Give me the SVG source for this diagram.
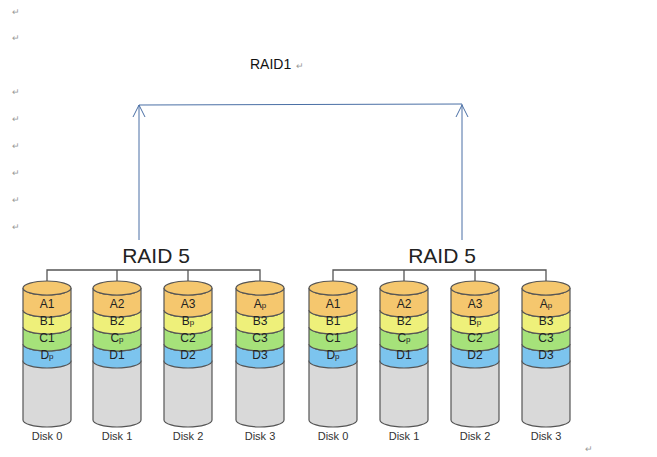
<svg xmlns="http://www.w3.org/2000/svg" width="657" height="457" viewBox="0 0 657 457">
<style>
.m{font-family:"Liberation Sans",Arial,sans-serif;font-size:9px;fill:#999}
.b{stroke:#555;stroke-width:1.2}
.t{font-family:"Liberation Sans",Arial,sans-serif;font-size:12px;fill:#222;text-anchor:middle}
.s{font-size:8px}
.d{font-family:"Liberation Sans",Arial,sans-serif;font-size:11px;fill:#333;text-anchor:middle}
.r5{font-family:"Liberation Sans",Arial,sans-serif;font-size:21px;fill:#222;text-anchor:middle}
.br{fill:none;stroke:#555;stroke-width:1.3}
.bl{fill:none;stroke:#4a6fa5;stroke-width:1}
</style>
<defs>
<g id="body">
<path class="b" fill="#d9d9d9" d="M-24,73 L-24,132 A24,7 0 0 0 24,132 L24,73 Z"/>
<path class="b" fill="#7cc4ee" d="M-24,56 L-24,73 A24,7 0 0 0 24,73 L24,56 A24,7 0 0 1 -24,56 Z"/>
<path class="b" fill="#a6e27a" d="M-24,39 L-24,56 A24,7 0 0 0 24,56 L24,39 A24,7 0 0 1 -24,39 Z"/>
<path class="b" fill="#eef07a" d="M-24,22 L-24,39 A24,7 0 0 0 24,39 L24,22 A24,7 0 0 1 -24,22 Z"/>
<path class="b" fill="#f5c76e" d="M-24,0 L-24,22 A24,7 0 0 0 24,22 L24,0 A24,7 0 0 1 -24,0 Z"/>
<ellipse class="b" fill="#f5c76e" cx="0" cy="0" rx="24" ry="7"/>
</g>
</defs>
<g id="marks">
<text class="m" x="12" y="15">↵</text><text class="m" x="12" y="41">↵</text>
<text class="m" x="12" y="95">↵</text><text class="m" x="12" y="122">↵</text>
<text class="m" x="12" y="149">↵</text><text class="m" x="12" y="176">↵</text>
<text class="m" x="12" y="203">↵</text><text class="m" x="12" y="230">↵</text>
<text class="m" x="585" y="452">↵</text>
</g>
<g id="raid1"><text x="250" y="69" font-family="Liberation Sans,Arial,sans-serif" font-size="14" fill="#111">RAID1</text><text class="m" x="296" y="69">↵</text></g>
<g id="connectors">
<path class="bl" d="M139,240 L139,105 L462,104 L462,240"/>
<path class="bl" d="M133,117 L139,105 L145,117 M456,117 L462,105 L468,117"/>
<path class="br" d="M47,281 L47,270 L260,270 L260,281 M117,270 L117,281 M188,270 L188,281"/>
<path class="br" d="M333,281 L333,270 L546,270 L546,281 M404,270 L404,281 M475,270 L475,281"/>
</g>
<g id="raid5a"><text class="r5" x="156" y="263">RAID 5</text></g>
<g id="raid5b"><text class="r5" x="442" y="263">RAID 5</text></g>
<g id="disk0a" transform="translate(47,288)"><use href="#body"/><text class="t" y="20">A1</text><text class="t" y="37">B1</text><text class="t" y="54">C1</text><text class="t" y="71">D<tspan class="s">p</tspan></text><text class="d" y="152">Disk 0</text></g>
<g id="disk1a" transform="translate(117,288)"><use href="#body"/><text class="t" y="20">A2</text><text class="t" y="37">B2</text><text class="t" y="54">C<tspan class="s">p</tspan></text><text class="t" y="71">D1</text><text class="d" y="152">Disk 1</text></g>
<g id="disk2a" transform="translate(188,288)"><use href="#body"/><text class="t" y="20">A3</text><text class="t" y="37">B<tspan class="s">p</tspan></text><text class="t" y="54">C2</text><text class="t" y="71">D2</text><text class="d" y="152">Disk 2</text></g>
<g id="disk3a" transform="translate(260,288)"><use href="#body"/><text class="t" y="20">A<tspan class="s">p</tspan></text><text class="t" y="37">B3</text><text class="t" y="54">C3</text><text class="t" y="71">D3</text><text class="d" y="152">Disk 3</text></g>
<g id="disk0b" transform="translate(333,288)"><use href="#body"/><text class="t" y="20">A1</text><text class="t" y="37">B1</text><text class="t" y="54">C1</text><text class="t" y="71">D<tspan class="s">p</tspan></text><text class="d" y="152">Disk 0</text></g>
<g id="disk1b" transform="translate(404,288)"><use href="#body"/><text class="t" y="20">A2</text><text class="t" y="37">B2</text><text class="t" y="54">C<tspan class="s">p</tspan></text><text class="t" y="71">D1</text><text class="d" y="152">Disk 1</text></g>
<g id="disk2b" transform="translate(475,288)"><use href="#body"/><text class="t" y="20">A3</text><text class="t" y="37">B<tspan class="s">p</tspan></text><text class="t" y="54">C2</text><text class="t" y="71">D2</text><text class="d" y="152">Disk 2</text></g>
<g id="disk3b" transform="translate(546,288)"><use href="#body"/><text class="t" y="20">A<tspan class="s">p</tspan></text><text class="t" y="37">B3</text><text class="t" y="54">C3</text><text class="t" y="71">D3</text><text class="d" y="152">Disk 3</text></g>
</svg>
